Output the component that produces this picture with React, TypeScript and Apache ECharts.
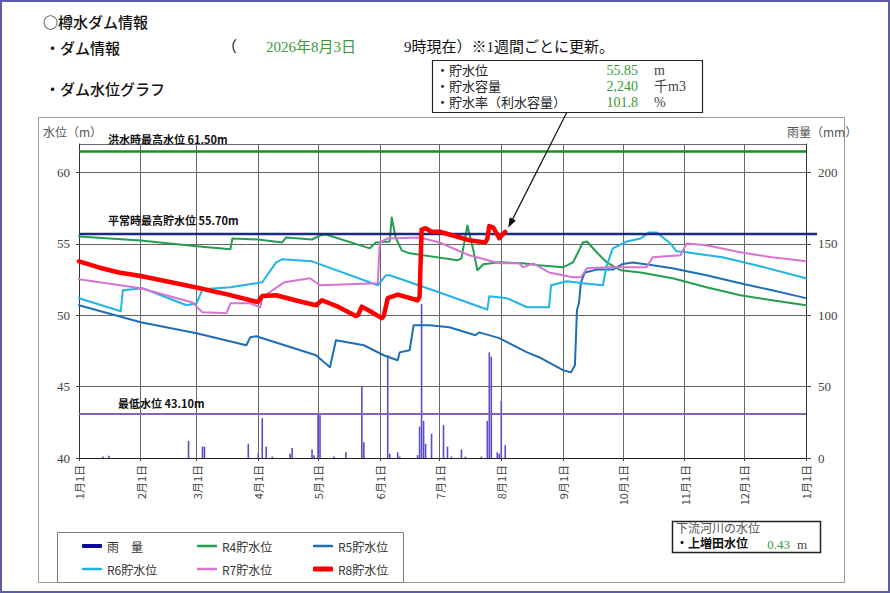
import React, { useEffect, useRef } from "react";
import * as echarts from "echarts";

// ---- data ----
// x values are day of year (0 = 1月1日, 365 = next 1月1日)
const MONTH_START_DAYS = [0, 31, 59, 90, 120, 151, 181, 212, 243, 273, 304, 334, 365];
const MONTH_LABELS = [
  "1月1日", "2月1日", "3月1日", "4月1日", "5月1日", "6月1日", "7月1日",
  "8月1日", "9月1日", "10月1日", "11月1日", "12月1日", "1月1日",
];

const LEVEL_MIN = 40;
const LEVEL_MAX = 62;
const LEVEL_STEP = 5;
const RAIN_MIN = 0;
const RAIN_MAX = 220;
const RAIN_STEP = 50;

const FLOOD_MAX_LEVEL = 61.5;
const NORMAL_MAX_LEVEL = 55.7;
const MIN_LEVEL = 43.1;

const CURRENT_DAY = 214;
const CURRENT_LEVEL = 55.85;
const INFO_LABELS = ["・貯水位", "・貯水容量", "・貯水率（利水容量）"];
const INFO_VALUES = ["55.85", "2,240", "101.8"];
const INFO_UNITS = ["m", "千m3", "%"];
const RIVER_LEVEL = "0.43";

// [day, mm]
const RAIN: [number, number][] = [
  [12, 1], [15, 1.5], [55, 12], [62, 8], [63, 8], [85, 10], [90, 3], [92, 28], [94, 8],
  [97, 1], [106, 3], [107, 7], [117, 6], [118, 2], [120, 30], [121, 30], [128, 1],
  [134, 4], [142, 50], [143, 11], [155, 72], [156, 3], [160, 4], [161, 1], [170, 2],
  [171, 22], [172, 108], [173, 26], [174, 10], [177, 17], [183, 23], [185, 8], [187, 1],
  [192, 6], [194, 1], [202, 1], [205, 26], [206, 74], [207, 71], [210, 4], [211, 3],
  [212, 40], [214, 9],
];

// [day, level m]
const R4: [number, number][] = [
  [0, 55.52], [31, 55.24], [59, 54.83], [76, 54.62], [77, 55.38], [90, 55.31], [102, 55.1],
  [104, 55.45], [117, 55.31], [121, 55.59], [124, 55.66], [146, 54.69], [149, 55.1],
  [156, 55.17], [157, 56.85], [159, 55.45], [162, 54.55], [166, 54.34], [190, 53.85],
  [192, 53.99], [195, 56.29], [198, 54.55], [200, 53.15], [203, 53.57], [211, 53.71],
  [223, 53.64], [231, 53.5], [243, 53.36], [248, 53.7], [253, 55.1], [255, 55.17],
  [260, 54.4], [265, 53.7], [272, 53.15], [282, 53.0], [298, 52.6], [315, 51.96],
  [332, 51.4], [348, 51.05], [365, 50.7],
];

const R5: [number, number][] = [
  [0, 50.7], [31, 49.51], [59, 48.74], [84, 47.9], [86, 48.46], [89, 48.53], [119, 47.2],
  [126, 46.36], [129, 48.25], [143, 47.9], [153, 47.2], [160, 46.85], [161, 47.4],
  [166, 47.55], [168, 49.3], [176, 49.3], [186, 49.16], [199, 48.6], [201, 48.8],
  [211, 48.4], [225, 47.4], [231, 47.06], [243, 46.15], [247, 46.0], [249, 46.5],
  [250, 50.35], [251, 50.84], [252, 52.3], [254, 53.0], [260, 53.2], [268, 53.2],
  [273, 53.6], [278, 53.7], [288, 53.5], [298, 53.3], [315, 52.8], [332, 52.24],
  [348, 51.75], [365, 51.2],
];

const R6: [number, number][] = [
  [0, 51.19], [21, 50.28], [22, 51.75], [32, 51.89], [54, 50.7], [59, 50.84], [62, 51.82],
  [76, 51.96], [89, 52.24], [92, 52.31], [99, 53.71], [102, 53.92], [117, 53.78],
  [150, 52.1], [154, 52.8], [156, 52.8], [181, 51.6], [205, 50.4], [206, 51.33],
  [215, 51.19], [225, 50.56], [236, 50.56], [237, 52.1], [245, 52.38], [253, 52.24],
  [263, 52.1], [265, 53.5], [268, 54.69], [275, 55.17], [282, 55.38], [286, 55.8],
  [290, 55.8], [297, 55.03], [300, 54.48], [305, 54.41], [323, 54.06], [340, 53.5],
  [365, 52.59],
];

const R7: [number, number][] = [
  [0, 52.52], [31, 51.89], [57, 50.9], [62, 50.2], [66, 50.2], [74, 50.14], [76, 50.84],
  [86, 50.84], [91, 50.56], [92, 51.26], [103, 52.31], [116, 52.59], [121, 52.1],
  [150, 52.24], [151, 55.1], [155, 55.38], [171, 55.45], [181, 55.1], [196, 54.2],
  [211, 53.64], [221, 53.64], [223, 53.36], [228, 53.64], [236, 53.0], [248, 52.66],
  [252, 52.66], [255, 53.29], [265, 53.36], [285, 53.36], [288, 54.06], [302, 54.2],
  [305, 55.03], [315, 54.9], [332, 54.41], [348, 54.06], [365, 53.78],
];

const R8: [number, number][] = [
  [0, 53.78], [10, 53.35], [20, 53.0], [31, 52.75], [45, 52.35], [59, 51.95], [75, 51.45],
  [89, 50.95], [90, 50.95], [92, 51.35], [99, 51.4], [110, 51.0], [119, 50.7],
  [122, 51.05], [130, 50.6], [139, 49.95], [140, 50.0], [142, 50.6], [146, 50.3],
  [152, 49.8], [153, 49.95], [155, 51.2], [160, 51.45], [170, 51.05], [171, 51.3],
  [172, 56.0], [174, 56.1], [177, 55.85], [181, 55.85], [190, 55.5], [196, 55.25],
  [204, 55.1], [205, 55.35], [206, 56.25], [208, 56.15], [211, 55.4], [214, 55.85],
];

// ---- styles ----
const FONT_JP = '"Noto Sans CJK JP", "Noto Sans", sans-serif';
const FONT_TIGHT = '"Liberation Sans", "Noto Sans CJK JP", sans-serif';
const FONT_SERIF = '"Liberation Serif", "Noto Sans CJK JP", serif';
const GREEN_TEXT = "#3a9a3a";

const C_RAIN = "#5a4ec8";
const C_RAIN_LEGEND = "#0a0aa0";
const C_R4 = "#22a050";
const C_R5 = "#1f6fb8";
const C_R6 = "#22b4e6";
const C_R7 = "#d774d2";
const C_R8 = "#ff0000";
const C_FLOOD = "#1e8c1e";
const C_NORMAL = "#1c2a80";
const C_MIN = "#8463b8";

function txt(text: string, x: number, y: number, size: number, family: string, fill = "#111", align = "left", weight = "normal", z = 10) {
  return {
    type: "text",
    x,
    y,
    z,
    silent: true,
    style: {
      text,
      fill,
      fontSize: size,
      fontFamily: family,
      fontWeight: weight,
      lineHeight: size + 1,
      align,
      textAlign: align,
      verticalAlign: "middle",
      textVerticalAlign: "middle",
    },
  };
}

function rect(x: number, y: number, w: number, h: number, stroke: string, lineWidth = 1, fill = "none", z = 1) {
  return {
    type: "rect",
    z,
    silent: true,
    shape: { x, y, width: w, height: h },
    style: { fill, stroke, lineWidth },
  };
}

function legendEntry(name: string, color: string, h: number, left: number, top: number) {
  return {
    data: [{ name, icon: "roundRect", itemStyle: { color } }],
    left,
    top,
    itemWidth: 20,
    itemHeight: h,
    selectedMode: false,
    padding: 0,
    textStyle: { color: "#333", fontSize: 12, fontFamily: FONT_JP, padding: [0, 0, 0, 0] },
  };
}

function lineSeries(name: string, data: [number, number][], color: string, width: number, z: number, extra: any = {}) {
  return {
    name,
    type: "line",
    data,
    xAxisIndex: 0,
    yAxisIndex: 0,
    symbol: "none",
    showSymbol: false,
    smooth: false,
    z,
    lineStyle: { color, width, join: "round", cap: "round" },
    itemStyle: { color },
    silent: true,
    ...extra,
  };
}

export default function App() {
  const ref = useRef<HTMLDivElement>(null);

  useEffect(() => {
    const chart = echarts.init(ref.current!, null, { renderer: "svg" });

    const option: any = {
      animation: false,
      backgroundColor: "#ffffff",
      grid: { left: 79, top: 144, width: 727, height: 314, containLabel: false, outerBoundsMode: "none" },
      xAxis: {
        type: "value",
        min: MONTH_START_DAYS[0],
        max: MONTH_START_DAYS[MONTH_START_DAYS.length - 1],
        axisLine: { show: true, lineStyle: { color: "#222", width: 1 } },
        axisTick: { show: true, customValues: MONTH_START_DAYS, length: 3, lineStyle: { color: "#444" } },
        axisLabel: {
          customValues: MONTH_START_DAYS,
          rotate: 90,
          margin: 7,
          color: "#444",
          fontSize: 11,
          fontFamily: FONT_JP,
          formatter: (v: number) => {
            const i = MONTH_START_DAYS.indexOf(Math.round(v));
            return i >= 0 ? MONTH_LABELS[i] : "";
          },
        },
        splitLine: { show: true, lineStyle: { color: "#666", width: 1 } },
      },
      yAxis: [
        {
          type: "value",
          min: LEVEL_MIN,
          max: LEVEL_MAX,
          interval: LEVEL_STEP,
          position: "left",
          axisLine: { show: true, lineStyle: { color: "#333" } },
          axisTick: { show: true, length: 3, lineStyle: { color: "#444" } },
          axisLabel: { showMaxLabel: false, color: "#444", fontSize: 13, fontFamily: FONT_SERIF, margin: 9 },
          splitLine: { show: true, lineStyle: { color: "#666", width: 1 } },
        },
        {
          type: "value",
          min: RAIN_MIN,
          max: RAIN_MAX,
          interval: RAIN_STEP,
          position: "right",
          axisLine: { show: true, lineStyle: { color: "#333" } },
          axisTick: { show: true, length: 5, lineStyle: { color: "#444" } },
          axisLabel: { showMaxLabel: false, color: "#444", fontSize: 13, fontFamily: FONT_SERIF, margin: 12 },
          splitLine: { show: false },
        },
      ],
      legend: [
        legendEntry("雨　量", C_RAIN_LEGEND, 4, 82, 540),
        legendEntry("R4貯水位", C_R4, 2.5, 197, 540),
        legendEntry("R5貯水位", C_R5, 2.5, 313, 540),
        legendEntry("R6貯水位", C_R6, 2.5, 82, 563),
        legendEntry("R7貯水位", C_R7, 2.5, 197, 563),
        legendEntry("R8貯水位", C_R8, 5, 313, 563),
      ],
      series: [
        {
          name: "雨　量",
          type: "bar",
          data: RAIN,
          xAxisIndex: 0,
          yAxisIndex: 1,
          barWidth: 1.6,
          z: 2,
          itemStyle: { color: C_RAIN },
          silent: true,
        },
        lineSeries("R4貯水位", R4, C_R4, 2, 3, {
          markLine: {
            silent: true,
            symbol: "none",
            label: { show: false },
            data: [
              { yAxis: FLOOD_MAX_LEVEL, lineStyle: { color: C_FLOOD, width: 2.5, type: "solid" } },
              { yAxis: MIN_LEVEL, lineStyle: { color: C_MIN, width: 2, type: "solid" } },
            ],
          },
        }),
        lineSeries("R5貯水位", R5, C_R5, 2, 3),
        lineSeries("R6貯水位", R6, C_R6, 2, 3),
        lineSeries("R7貯水位", R7, C_R7, 2, 3),
        lineSeries("R8貯水位", R8, C_R8, 4.5, 6),
      ],
    };

    chart.setOption(option);

    const px = (d: number, v: number) => chart.convertToPixel({ gridIndex: 0 }, [d, v]) as number[];
    const left = px(MONTH_START_DAYS[0], LEVEL_MIN);
    const right = px(MONTH_START_DAYS[MONTH_START_DAYS.length - 1], LEVEL_MIN);
    const yFlood = px(0, FLOOD_MAX_LEVEL)[1];
    const yNormal = px(0, NORMAL_MAX_LEVEL)[1];
    const yMin = px(0, MIN_LEVEL)[1];

    // arrow from info box to current level point
    const cur = px(CURRENT_DAY, CURRENT_LEVEL);
    const tip = [cur[0] + 3, cur[1] - 4];
    const start = [567, 112];
    const dx = tip[0] - start[0];
    const dy = tip[1] - start[1];
    const len = Math.sqrt(dx * dx + dy * dy);
    const ux = dx / len;
    const uy = dy / len;
    const headL = 10;
    const headW = 3.5;
    const base = [tip[0] - ux * headL, tip[1] - uy * headL];
    const head = [
      [tip[0], tip[1]],
      [base[0] - uy * headW, base[1] + ux * headW],
      [base[0] + uy * headW, base[1] - ux * headW],
    ];

    const elements: any[] = [
      rect(1, 1, 888, 591, "#5b5ba8", 2, "none", 0),
      rect(38.5, 117.5, 806, 465, "#9a9a9a", 1, "none", 0),
      // header
      txt("○樽水ダム情報", 43, 21, 15, FONT_JP, "#111", "left", "500"),
      txt("・ダム情報", 45, 47, 15, FONT_JP, "#111", "left", "500"),
      txt("（", 222, 47, 15, FONT_SERIF),
      txt("2026年8月3日", 266, 47, 15, FONT_SERIF, GREEN_TEXT),
      txt("9時現在）※1週間ごとに更新。", 404, 47, 15, FONT_SERIF),
      txt("・ダム水位グラフ", 45, 88, 15, FONT_JP, "#111", "left", "500"),
      // info box
      rect(432.5, 60.5, 270, 52, "#222", 1.2, "#ffffff", 5),
      ...INFO_LABELS.map((t, i) => txt(t, 436, 70 + i * 16, 13, FONT_TIGHT, "#222")),
      ...INFO_VALUES.map((t, i) => txt(t, 638, 70 + i * 16, 14, FONT_SERIF, GREEN_TEXT, "right")),
      ...INFO_UNITS.map((t, i) => txt(t, 654, 70 + i * 16, 14, FONT_SERIF, "#444")),
      // arrow
      {
        type: "line",
        z: 9,
        silent: true,
        shape: { x1: start[0], y1: start[1], x2: base[0], y2: base[1] },
        style: { stroke: "#111", lineWidth: 1.2 },
      },
      { type: "polygon", z: 9, silent: true, shape: { points: head }, style: { fill: "#111" } },
      // axis names
      txt("水位（m）", 43, 131, 12, FONT_JP, "#555"),
      txt("雨量（mm）", 787, 131, 12, FONT_JP, "#555"),
      // reference line (normal max) extends slightly past the right axis
      {
        type: "line",
        z: 5,
        silent: true,
        shape: { x1: left[0], y1: yNormal, x2: right[0] + 11, y2: yNormal },
        style: { stroke: C_NORMAL, lineWidth: 2.5 },
      },
      txt("洪水時最高水位 61.50m", left[0] + 29, yFlood - 12, 11, FONT_JP, "#111", "left", "bold"),
      txt("平常時最高貯水位 55.70m", left[0] + 29, yNormal - 14, 11, FONT_JP, "#111", "left", "bold"),
      txt("最低水位 43.10m", left[0] + 39, yMin - 11, 11, FONT_JP, "#111", "left", "bold"),
      // legend box
      rect(57.5, 532.5, 346, 50, "#808080", 1, "none", 0),
      // downstream river box
      rect(672.5, 521.5, 148, 31, "#222", 1.5, "#ffffff", 5),
      txt("下流河川の水位", 676, 529, 12, FONT_TIGHT, "#555"),
      txt("・上増田水位", 676, 544, 12, FONT_TIGHT, "#111", "left", "bold"),
      txt(RIVER_LEVEL, 790, 544, 13, FONT_SERIF, GREEN_TEXT, "right"),
      txt("m", 797, 544, 13, FONT_SERIF, "#444"),
    ];

    chart.setOption({ graphic: { elements } });

    return () => chart.dispose();
  }, []);

  return (
    <div
      ref={ref}
      style={{ position: "absolute", left: 0, top: 0, width: 890, height: 593, background: "#fff" }}
    />
  );
}
